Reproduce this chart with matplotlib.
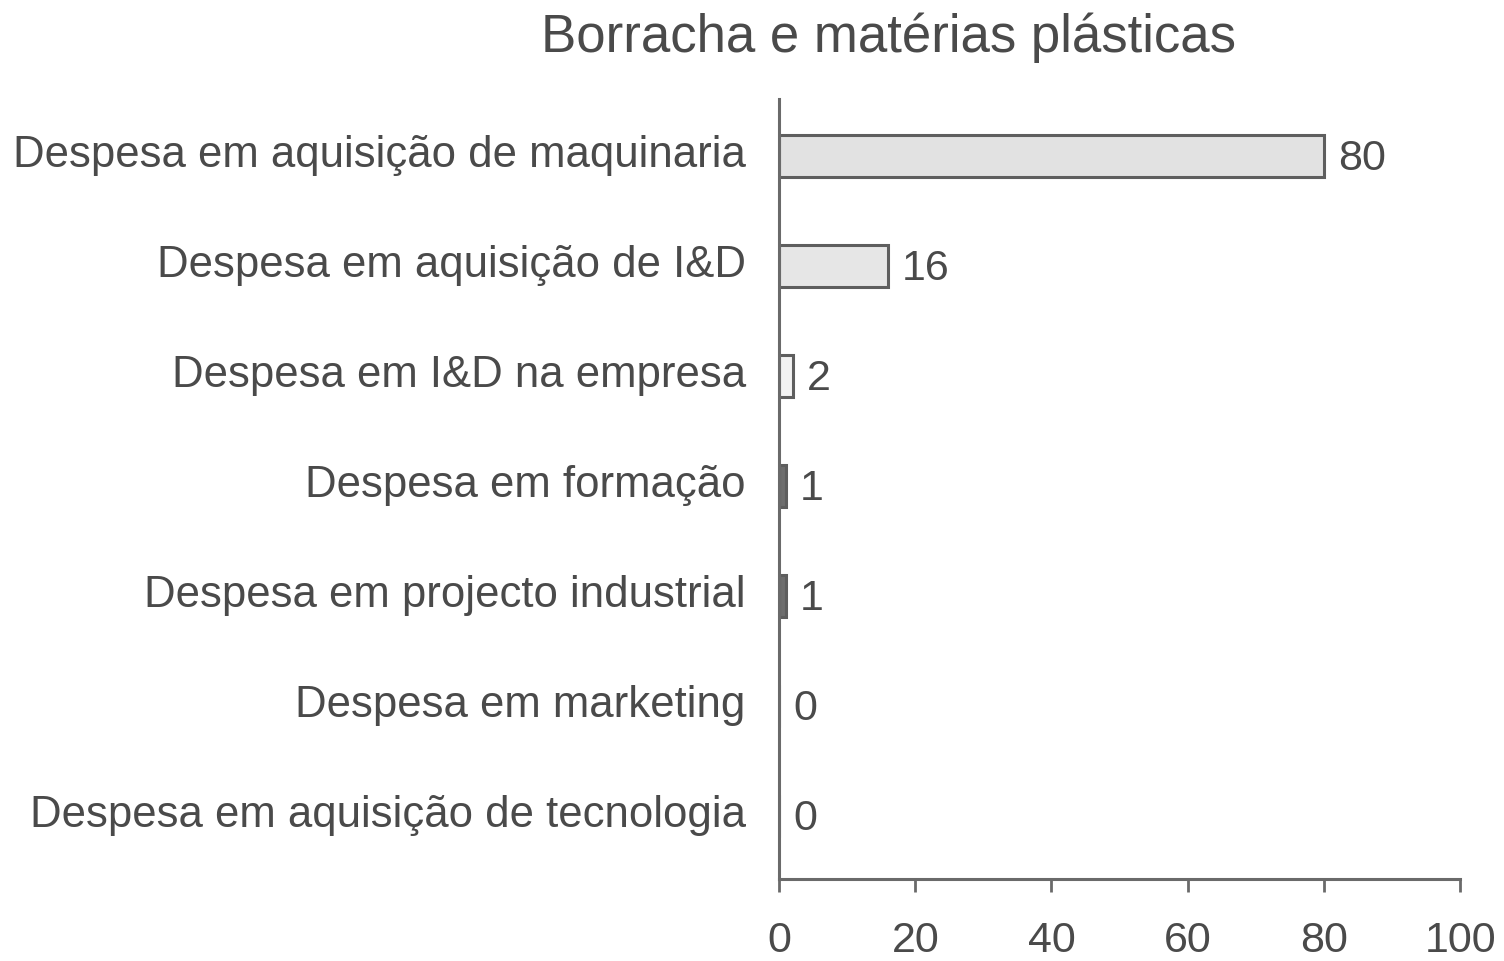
import matplotlib
matplotlib.use("Agg")
import matplotlib.pyplot as plt
import matplotlib.transforms as mtransforms
import numpy as np

categories = [
    "Despesa em aquisição de maquinaria",
    "Despesa em aquisição de I&D",
    "Despesa em I&D na empresa",
    "Despesa em formação",
    "Despesa em projecto industrial",
    "Despesa em marketing",
    "Despesa em aquisição de tecnologia",
]
values = [80, 16, 2, 1, 1, 0, 0]
value_labels = ["80", "16", "2", "1", "1", "0", "0"]
xticks = [0, 20, 40, 60, 80, 100]
bar_colors = ["#e2e2e2", "#e6e6e6", "#f2f2f2", "#6e6e6e", "#6e6e6e", "#ffffff", "#ffffff"]

plt.rcParams['font.family'] = ['Liberation Sans', 'DejaVu Sans']
text_color = "#4a4a4a"

fig = plt.figure(figsize=(15.04, 9.62), dpi=100)
ax = fig.add_axes([0.518, 0.0852, 0.4528, 0.811])

y = np.arange(len(categories))
ax.barh(y, values, height=0.38, color=bar_colors, edgecolor="#5e5e5e", linewidth=2.2)

for yi, v, lab in zip(y, values, value_labels):
    ax.annotate(lab, (v, yi), xytext=(10, -1.5), textcoords="offset points",
                ha="left", va="center", fontsize=31, color=text_color)

ax.set_xlim(0, 100)
ax.set_ylim(6.57, -0.52)
ax.set_yticks(y)
ax.set_yticklabels(categories, fontsize=31.5, color=text_color)
ax.set_xticks(xticks)
ax.set_xticklabels([str(t) for t in xticks], fontsize=31, color=text_color)
ax.tick_params(axis="y", length=0, pad=24)
ax.tick_params(axis="x", length=9.5, width=2, color="#6a6a6a", pad=20, direction="out")

shift = mtransforms.ScaledTranslation(0, 6 / 100, fig.dpi_scale_trans)
for lbl in ax.get_yticklabels():
    lbl.set_transform(lbl.get_transform() + shift)

for s in ["top", "right"]:
    ax.spines[s].set_visible(False)
for s in ["left", "bottom"]:
    ax.spines[s].set_color("#6a6a6a")
    ax.spines[s].set_linewidth(2.2)

fig.text(0.591, 0.961, "Borracha e matérias plásticas", ha="center", va="center",
         fontsize=38, color=text_color)

fig.savefig("out.png", dpi=100, facecolor="white")
